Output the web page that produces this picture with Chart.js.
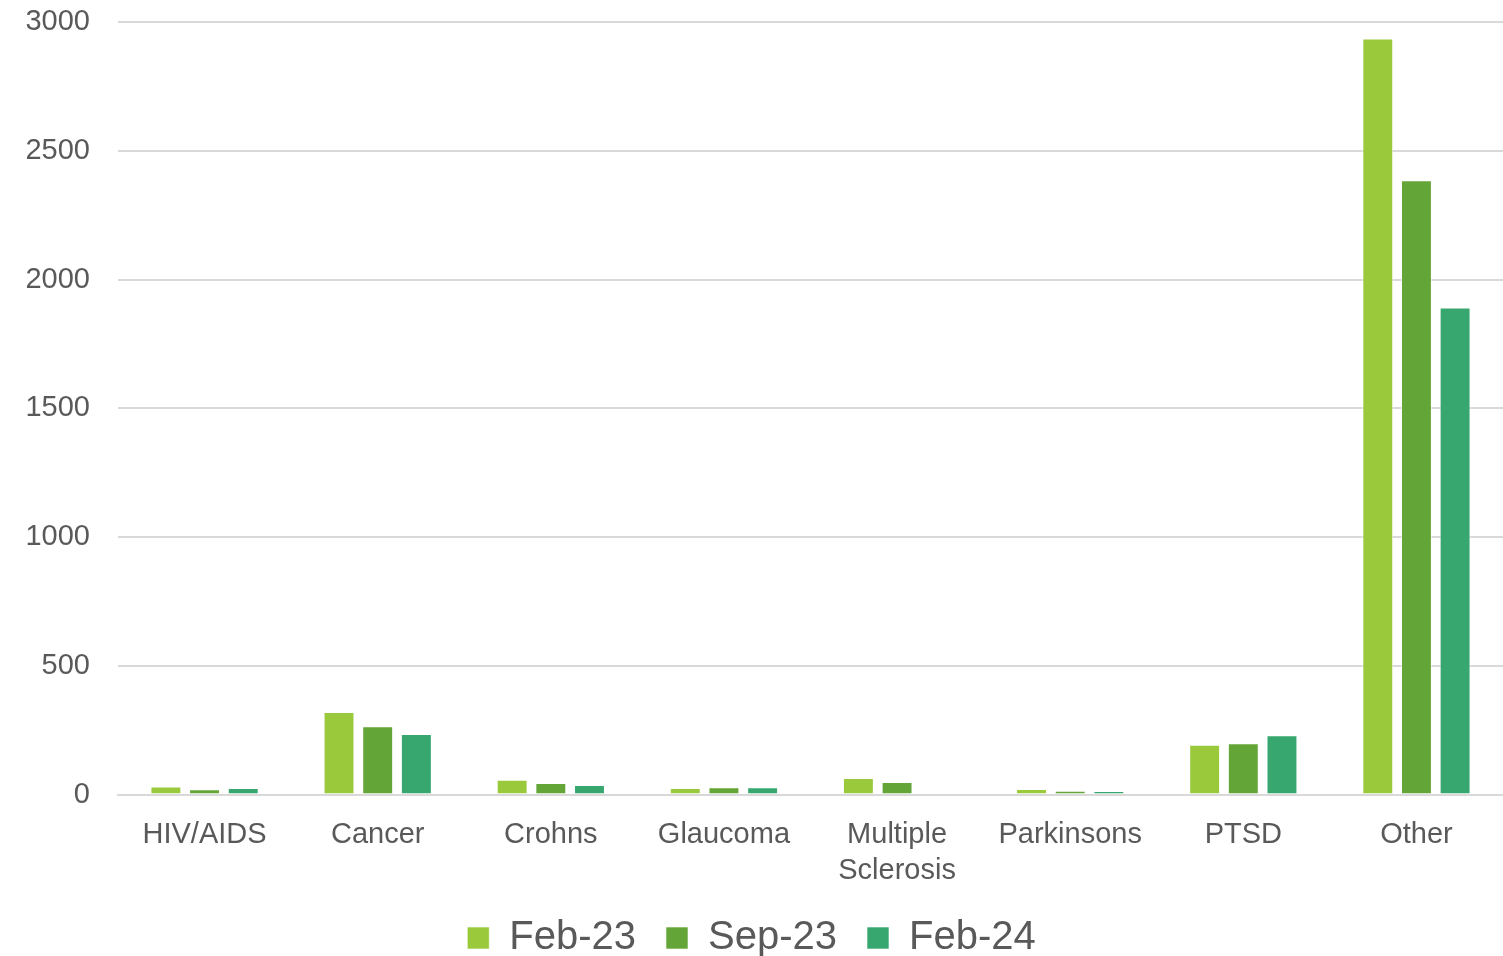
<!DOCTYPE html>
<html>
<head>
<meta charset="utf-8">
<script src="https://cdn.jsdelivr.net/npm/chart.js@4"></script>
<style>
	html, body { margin: 0; padding: 0; background: #fff; }
	#wrap { width: 1503px; height: 956px; }
</style>
</head>
<body>
<div id="wrap"><canvas id="conditionsChart"></canvas></div>
<script>
const categories = ["HIV/AIDS", "Cancer", "Crohns", "Glaucoma", ["Multiple", "Sclerosis"], "Parkinsons", "PTSD", "Other"];
const feb23 = [31, 320, 57, 25, 64, 21, 193, 2936];
const sep23 = [20, 265, 45, 28, 49, 15, 199, 2385];
const feb24 = [25, 235, 37, 28, 0, 14, 230, 1891];
const yTicks = [0, 500, 1000, 1500, 2000, 2500, 3000];

const textColour = "#595959";
const fontFamily = "'Liberation Sans', Arial, sans-serif";

function makeSet(label, data, colour) {
	return {
		label: label,
		data: data,
		backgroundColor: colour,
		borderColor: "rgba(255,255,255,0.6)",
		borderWidth: 1,
		categoryPercentage: 0.67,
		barPercentage: 0.8,
	};
}

const ctx = document.getElementById("conditionsChart");
const chart = new Chart(ctx, {
	type: "bar",
	data: {
		labels: categories,
		datasets: [
			makeSet("Feb-23", feb23, "#9ACA3C"),
			makeSet("Sep-23", sep23, "#63A537"),
			makeSet("Feb-24", feb24, "#37A76F"),
		],
	},
	options: {
		responsive: true,
		maintainAspectRatio: false,
		animation: false,
		layout: { padding: { top: 22, right: 0, left: 0, bottom: -12 } },
		plugins: {
			legend: {
				position: "bottom",
				labels: {
					color: textColour,
					font: { size: 40, family: fontFamily },
					boxWidth: 22,
					boxHeight: 22,
					padding: 30,
				},
			},
			tooltip: { enabled: false },
		},
		scales: {
			x: {
				grid: { display: false, drawTicks: false },
				border: { color: "#d9d9d9", width: 2 },
				afterFit: (axis) => {
					axis.height -= 23; // labels sit closer to the legend
				},
				ticks: {
					color: textColour,
					font: { size: 29, family: fontFamily, lineHeight: 1.25 },
					padding: 22,
					maxRotation: 0,
					autoSkip: false,
				},
			},
			y: {
				min: 0,
				max: 3000,
				afterBuildTicks: (axis) => {
					axis.ticks = yTicks.map((v) => ({ value: v }));
				},
				afterFit: (axis) => {
					axis.width = 118;
					axis.paddingTop = 0;
					axis.paddingBottom = 0;
				},
				grid: { color: "#d9d9d9", lineWidth: 2, drawTicks: false },
				border: { display: false },
				ticks: {
					color: textColour,
					font: { size: 29, family: fontFamily },
					padding: 28,
					callback: (v) => String(v),
				},
			},
		},
	},
});
</script>
</body>
</html>
